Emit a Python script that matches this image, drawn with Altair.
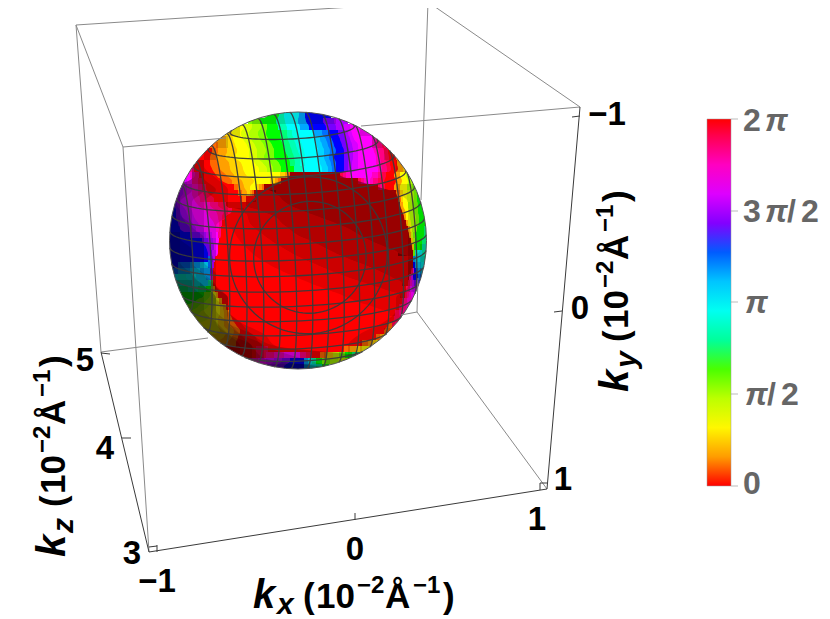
import numpy as np
import pandas as pd
import altair as alt

PI = np.pi
PHASE_LETTERS = "abcdefghijklmnopqrstuvwx"  # a = 0, each next letter = +pi/12
DARK_LETTERS = "BCDEF"  # phase 0 seen darker: B = 10 %, C = 20 % ...

# Colour patches of the sphere, one string per 6px row, top to bottom: start, then letter + run end
phase_rows = [
"268 i279 k284 m299 o305 q331",
"248 h260 i276 k285 m298 o306 q323 r334 s348",
"235 e244 f252 g261 h267 i278 k287 m300 o309 q326 r336 s344 t350 u360",
"225 d232 e241 f249 g258 h266 i280 j287 k292 l298 m313 o322 p328 q338 r344 s348 t352 u372",
"216 c226 d233 e243 f251 g260 h268 i281 j288 k294 l300 m315 n320 o326 p332 q340 r346 s350 t354 u372 v376 w380",
"209 b218 c226 d235 e247 f255 g264 h272 i283 j290 k296 l302 m317 n322 o328 p334 q342 r348 s352 t358 u372 v377 w382 x387",
"203 a212 b218 c227 d237 e249 f257 g266 h274 i285 j292 k298 l304 m318 n324 o330 p336 q344 r349 s353 t358 u374 v379 w384 x388 a393",
"197 a210 b216 c225 d235 e249 f257 g264 h274 i288 j294 k300 l305 m318 n324 o329 p334 q344 r349 s353 t358 u376 v380 w385 x389 a396 b399",
"192 a210 b218 c229 d241 e255 f263 g271 h279 i290 j295 k300 l305 m320 n326 o331 p336 q344 r348 s352 t358 u376 v381 w386 x390 a397 c404",
"188 w194 a212 b220 c230 d243 e259 f267 g273 h281 i294 k302 m322 n328 o332 p336 q344 r348 s352 t358 u378 v382 w387 x391 a398 c403 d408",
"184 u190 v195 w199 a216 b226 c234 d246 e280 d285 c288 b290 E340 x343 w346 v350 u372 v378 w382 x386 a394 c400 e406 g412",
"181 t187 u192 w198 x202 a222 b232 c242 d254 e270 d275 c278 b281 E358 x361 w364 v367 u370 v373 w378 x384 a396 c402 e408 g415",
"178 s183 t187 u192 v198 w202 x206 a234 b238 c244 d250 e256 d259 c262 b264 E378 x380 w382 x385 a394 c400 e407 g412 h415 i418",
"175 r179 s183 t187 u192 v198 w203 x208 a238 b242 c247 d250 c252 b254 D276 E396 b400 d403 e407 f411 g414 h417 i421",
"173 r176 s180 t186 u194 v200 w206 x214 a242 b246 C256 D282 E398 b401 d403 e407 f410 g414 h417 i423",
"171 q174 r177 s182 t188 u198 v210 w218 x226 C246 D290 E400 c403 e408 g413 h418 i425",
"170 q176 r180 s186 t192 u206 v216 w224 x232 B244 C262 D304 E402 c405 e409 g414 h418 i426",
"168 q176 r182 s188 t194 u210 v218 w222 x226 B248 C276 D320 E404 c406 e410 g416 h419 i428",
"167 q178 r186 s192 t198 u214 v219 w222 B250 C282 D336 E406 c408 e411 g416 h419 i429",
"167 q180 r190 s196 t204 u216 v219 w221 a232 B256 C290 D350 E408 c410 e412 g417 i424 j430",
"166 q190 r200 s206 t212 u218 w221 a236 B264 C298 D360 E409 c411 f413 h416 i424 j430",
"166 q202 r208 s213 t216 u219 a240 B272 C312 D372 E411 d413 g415 i422 j426 k430",
"166 q206 r210 s214 u218 a246 B282 C324 D386 E412 d414 i422 k425 l430",
"166 q208 r212 t216 u218 a252 B292 C336 D398 E413 h415 l418 m422 k425 j430",
"167 q208 p211 r213 t215 a260 B304 C350 D413 o415 n417 m421 l424 k429",
"168 q178 p190 o200 n208 p212 s214 a270 B318 C366 D413 q415 o417 n421 m424 l428",
"170 p178 o190 n200 o210 r213 a282 B332 C380 D411 x413 u414 q416 p418 o421 n427",
"172 m178 l186 m196 n206 o210 t213 a296 B348 C392 D409 w411 t413 q418 p422 o425",
"174 k180 l192 m200 n208 k211 h213 a310 B366 C402 D408 x410 v412 t414 r418 q423",
"176 j188 k198 j206 i211 f213 c215 a326 B384 C406 x408 w410 u412 t416 s420",
"179 i204 h210 g213 e216 c218 a342 B400 C405 x407 w409 v411 u414 t418",
"182 i196 h206 g212 f216 e219 c222 a356 B402 x404 w407 v412 u414",
"185 h198 g208 f214 e220 d223 c226 a374 B399 x402 w406 v411",
"189 g200 f212 e220 d224 c227 b230 a390 B395 x399 w404 v407",
"193 f208 e218 d224 c228 b232 a394 x400 w403",
"198 e218 d224 c230 b236 a388 b392 x395 w399",
"204 e220 d228 c234 b240 a384 b390 c393",
"210 d224 c232 b238 a376 b380 c383 d387",
"217 c228 b236 a362 b368 c372 d376 e380",
"225 a256 x268 a344 b350 c356 d362 e372",
"235 a256 x266 w274 v284 u300 w306 x312 a320 b327 d333 f339 h345 i352 j361",
"248 v258 u266 t274 s282 r290 q304 o308 m312 k316 i322 h330 g338 f348",
"267 s276 r284 q304 o310 m316 k322 i329",
]

# Limb shading of the sphere on a 12px raster: darkness steps, "." = off the sphere
shade_rows = [
".......1111111........",
".....100000000001.....",
"....10000000000001....",
"...1000000000000001...",
"..200000000000000001..",
"..310000000000000000..",
"543210000000000000011.",
"5321100000000000000011",
"5321100000000000000011",
"5421000000000000000011",
"6431000000000000000011",
"6531000000000000000012",
"6531000000000000000023",
"6642000000000000000024",
"7764000000000000000 22."[:19] + "022.",
".776300000000000000 11."[:19] + "11.",
".7764000000000000001..",
"..775200000000000011..",
"...7753100000000112...",
"....77642000000122....",
".....765333223344.....",
".......6666666........",
]

# Sphere mesh: plane levels as fractions of the radius
mesh_levels = [k / 8 for k in range(-7, 8)]
circle_levels = [0.898, 0.787]

# Bounding box corners
corner = {
    "A": (76, 25), "B": (428, 2), "C": (123, 147), "D": (580, 107),
    "E": (149, 552), "F": (547, 489), "G": (101, 352), "H": (417, 312),
}
grey_edges = [
    [corner["A"], corner["B"]], [corner["A"], corner["C"]], [corner["B"], corner["D"]],
    [corner["A"], corner["G"]], [corner["C"], corner["E"]], [corner["H"], corner["F"]],
    [corner["C"], (226, 138)], [(361, 126), corner["D"]],
    [corner["G"], (208, 338)], [(401, 315), corner["H"]],
    [corner["B"], (421, 200)], [(418, 278), corner["H"]],
]
dark_edges = [
    [corner["E"], corner["G"]], [corner["E"], corner["F"]], [corner["D"], corner["F"]],
    [(101, 353), (110, 354)], [(122, 438), (131, 438)], [(149, 547), (157, 546)],
    [(157, 545), (157, 552)], [(355, 513), (355, 520)], [(540, 483), (540, 490)],
    [(572, 117), (580, 116)], [(554, 312), (562, 311)], [(540, 483), (547, 483)],
]

phase_ticks = [0, PI / 2, PI, 3 * PI / 2, 2 * PI]
phase_tick_y = [486, 394, 302, 211, 119]

axis_numbers = ["\u22121", "0", "1", "3", "4", "5", "\u22121", "0", "1"]
axis_number_x = [157, 355, 537, 132, 105, 85, 607, 580, 563]
axis_number_y = [592, 560, 530, 564, 459, 371, 125, 319, 490]

title_parts = ["(", "10", "\u22122", "\u00c5", "\u22121", ")"]
title_offsets = [50, 63, 104, 132, 160, 190]
title_sizes = [35, 35, 24, 35, 24, 35]
title_raise = [0, 0, 15, 0, 15, 0]

# ----------------------------------------------------------------------
X = alt.X("x:Q", axis=None, scale=alt.Scale(domain=[8, 822], nice=False, zero=False))
Y = alt.Y("y:Q", axis=None, scale=alt.Scale(domain=[619, 8], nice=False, zero=False))


def stitch(rows_of_runs):
    """Join runs of the same key that overlap in neighbouring rows into one band."""
    bands, open_bands, out = [], [], []
    half = 0
    for y, half, runs in rows_of_runs:
        still = []
        for run in runs:
            found = None
            for b in open_bands:
                if b["key"] == run["key"] and b["used"] is False and b["r"] > run["l"] and b["l"] < run["r"]:
                    found = b
                    break
            if found is None:
                found = dict(key=run["key"], pts=[], info=run)
                bands.append(found)
                found["pts"].append((y - half, run["l"], run["r"]))
            found["used"] = True
            found["l"], found["r"] = run["l"], run["r"]
            found["pts"].append((y, run["l"], run["r"]))
            still.append(found)
        for b in open_bands:
            if b["used"] is False:
                last = b["pts"][-1]
                b["pts"].append((last[0] + half, last[1], last[2]))
        for b in still:
            b["used"] = False
        open_bands = still
    for b in open_bands:
        last = b["pts"][-1]
        b["pts"].append((last[0] + half, last[1], last[2]))
    for k, b in enumerate(bands):
        for (y, l, r) in b["pts"]:
            out.append(dict(y=y, x=l, x2=r, band=k, **b["info"]["extra"]))
    return out


cells, phase_runs = [], []
for j, row in enumerate(phase_rows):
    tokens = row.split()
    left = float(tokens[0])
    runs = []
    for tok in tokens[1:]:
        right = float(tok[1:])
        if tok[0] in DARK_LETTERS:
            ph, dk = 0.0, (DARK_LETTERS.index(tok[0]) + 1) / 10
        else:
            ph, dk = PHASE_LETTERS.index(tok[0]) * PI / 12, 0.0
        cells.append(dict(x=left, x2=right, y=112 + 6 * j, y2=118 + 6 * j, phase=ph, dark=dk))
        runs.append(dict(key=tok[0], l=left, r=right, extra=dict(phase=ph, dark=dk)))
        left = right
    phase_runs.append((115 + 6 * j, 3, runs))
cells_df = pd.DataFrame(cells)
bands_df = pd.DataFrame(stitch(phase_runs))

color_scale = alt.Scale(
    domain=[k * PI / 3 for k in range(7)],
    range=["#ff0000", "#ffff00", "#00ff00", "#00ffff", "#0000ff", "#ff00ff", "#ff0000"],
)
phase_layer = alt.Chart(cells_df).mark_rect(strokeWidth=0).encode(
    x=X, x2="x2:Q", y=Y, y2="y2:Q",
    color=alt.Color(
        "phase:Q", scale=color_scale, title=None,
        legend=alt.Legend(
            orient="none", legendX=699, legendY=111, gradientLength=367,
            gradientThickness=24, values=phase_ticks, labelExpr="''", padding=0,
            gradientStrokeColor="#999999", gradientStrokeWidth=0.5,
        ),
    ),
)
dark_cells = alt.Chart(cells_df[cells_df.dark > 0]).mark_rect(color="black", strokeWidth=0).encode(
    x=X, x2="x2:Q", y=Y, y2="y2:Q", opacity=alt.Opacity("dark:Q", scale=None, legend=None)
)
band_layer = alt.Chart(bands_df).mark_area(
    orient="horizontal", interpolate="monotone", opacity=1, strokeWidth=0
).encode(
    y=Y, x=X, x2="x2:Q", detail="band:N",
    color=alt.Color("phase:Q", scale=color_scale, legend=None),
)
band_dark = alt.Chart(bands_df[bands_df.dark > 0]).mark_area(
    orient="horizontal", interpolate="monotone", color="black", strokeWidth=0
).encode(
    y=Y, x=X, x2="x2:Q", detail="band:N",
    opacity=alt.Opacity("dark:Q", scale=None, legend=None),
)

shade_runs = []
for j, row in enumerate(shade_rows):
    runs = []
    for n in range(1, 9):
        i = 0
        while i < len(row):
            if row[i] != "." and int(row[i]) >= n:
                s = i
                while i < len(row) and row[i] != "." and int(row[i]) >= n:
                    i += 1
                runs.append(dict(key=n, l=168 + 12 * s, r=168 + 12 * i, extra=dict(level=n)))
            else:
                i += 1
    shade_runs.append((118 + 12 * j, 6, runs))
shade_layer = alt.Chart(pd.DataFrame(stitch(shade_runs))).mark_area(
    orient="horizontal", interpolate="monotone", color="black", opacity=0.14, strokeWidth=0
).encode(y=Y, x=X, x2="x2:Q", detail="band:N")

CX, CY, RAD = 298, 240.5, 128.5
ring = alt.Chart(pd.DataFrame({"x": [CX], "y": [CY]})).mark_point(
    shape="circle", filled=False, stroke="white", strokeWidth=24, size=(2 * RAD + 24) ** 2, opacity=1
).encode(x=X, y=Y)
outline = alt.Chart(pd.DataFrame({"x": [CX], "y": [CY]})).mark_point(
    shape="circle", filled=False, stroke="#555555", strokeWidth=1, size=(2 * RAD) ** 2, opacity=1
).encode(x=X, y=Y)

# Sphere orientation (screen right, screen down, toward viewer)
Ez = np.array([0.103, 0.146, 0.984]); Ez /= np.linalg.norm(Ez)
Ex = np.array([0.9986, -0.052, 0.0]); Ex -= Ex.dot(Ez) * Ez; Ex /= np.linalg.norm(Ex)
Ey = np.cross(Ez, Ex)


def plane_curves(axis, a, b, levels, tag):
    out = []
    for lev in levels:
        rad = np.sqrt(1 - lev * lev)
        grp = 0
        prev = False
        for deg in range(0, 361, 4):
            t = np.radians(deg)
            d = lev * axis + rad * (np.cos(t) * a + np.sin(t) * b)
            vis = d[2] > 0
            if vis and not prev:
                grp += 1
            if vis:
                out.append(dict(x=CX + RAD * d[0], y=CY + RAD * d[1],
                                g=f"{tag}{lev:.3f}_{grp}", o=deg))
            prev = vis
    return out


mesh = (plane_curves(Ex, Ey, Ez, mesh_levels, "x")
        + plane_curves(Ey, Ex, Ez, mesh_levels, "y")
        + plane_curves(Ez, Ex, Ey, circle_levels, "z"))
mesh_layer = alt.Chart(pd.DataFrame(mesh)).mark_line(
    color="#3a3a3a", strokeWidth=1.3, opacity=0.95
).encode(x=X, y=Y, detail="g:N", order="o:Q")


def edge_layer(edges, color, width):
    rows = []
    for k, (p, q) in enumerate(edges):
        rows.append(dict(x=p[0], y=p[1], g=k, o=0))
        rows.append(dict(x=q[0], y=q[1], g=k, o=1))
    return alt.Chart(pd.DataFrame(rows)).mark_line(color=color, strokeWidth=width).encode(
        x=X, y=Y, detail="g:N", order="o:Q"
    )


grey_layer = edge_layer(grey_edges, "#8a8a8a", 1)
dark_layer = edge_layer(dark_edges, "#3a3a3a", 1)

tick_df = pd.DataFrame({"x": [731] * 5, "x2": [738] * 5, "y": phase_tick_y})
legend_ticks = alt.Chart(tick_df).mark_rule(color="#bbbbbb", strokeWidth=1).encode(x=X, x2="x2:Q", y=Y)

FONT = "Liberation Sans"


def label(text, x, y, size, color="black", italic=False, angle=0):
    kw = dict(font=FONT, fontWeight="bold", fontSize=size, color=color, align="left",
              baseline="alphabetic", fontStyle="italic" if italic else "normal")
    if angle:
        kw["angle"] = angle
    return alt.Chart(pd.DataFrame({"x": [x], "y": [y], "t": [text]})).mark_text(**kw).encode(
        x=X, y=Y, text="t:N"
    )


texts = []
for t, x, y in zip(axis_numbers, axis_number_x, axis_number_y):
    kw = dict(font=FONT, fontWeight="bold", fontSize=33, color="black", align="center",
              baseline="alphabetic")
    texts.append(alt.Chart(pd.DataFrame({"x": [x], "y": [y], "t": [t]})).mark_text(**kw).encode(
        x=X, y=Y, text="t:N"))

GREY = "#666666"
legend_bits = [
    ("2", 743, 131, False), ("\u03c0", 765, 131, True),
    ("3", 743, 222, False), ("\u03c0", 765, 222, True), ("/", 787, 222, False), ("2", 801, 222, False),
    ("\u03c0", 745, 313, True),
    ("\u03c0", 745, 405, True), ("/", 767, 405, False), ("2", 781, 405, False),
    ("0", 743, 494, False),
]
for t, x, y, it in legend_bits:
    texts.append(label(t, x, y, 32, color=GREY, italic=it))

# k_x title (horizontal)
texts.append(label("k", 253, 608, 40, italic=True))
texts.append(label("x", 277, 614, 30, italic=True))
for t, off, sz, up in zip(title_parts, title_offsets, title_sizes, title_raise):
    texts.append(label(t, 253 + off, 608 - up, sz))

# k_z and k_y titles (rotated)
for base_x, start_y, sub in [(65, 557, "z"), (628, 392, "y")]:
    texts.append(label("k", base_x, start_y, 40, italic=True, angle=270))
    texts.append(label(sub, base_x + 8, start_y - 24, 30, italic=True, angle=270))
    for t, off, sz, up in zip(title_parts, title_offsets, title_sizes, title_raise):
        texts.append(label(t, base_x - up, start_y - off, sz, angle=270))

chart = alt.layer(
    phase_layer, dark_cells, band_layer, band_dark, shade_layer, ring, mesh_layer, outline,
    grey_layer, dark_layer, legend_ticks, *texts
).properties(
    width=814, height=611, padding=0,
    autosize=alt.AutoSizeParams(type="none", contains="padding"),
).configure_view(stroke=None)

chart.save("out.html", embed_options={"renderer": "svg", "actions": False})
